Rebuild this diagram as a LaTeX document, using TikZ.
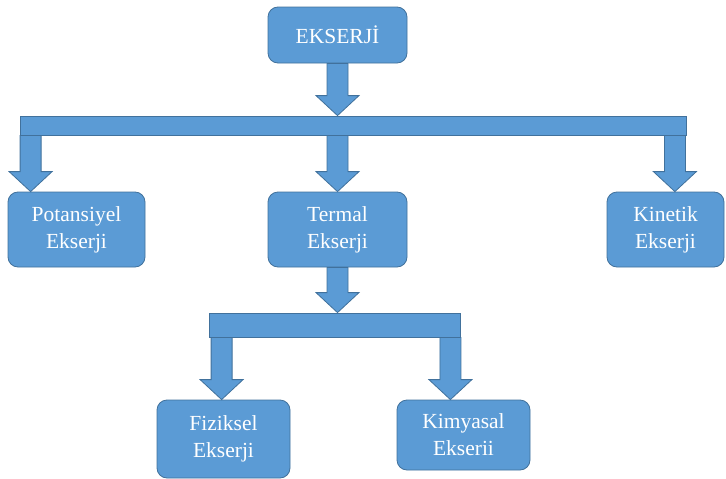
\documentclass[tikz,border=0pt]{standalone}
\usepackage{fontspec}
\setmainfont{Liberation Serif}
\usetikzlibrary{positioning, calc}
\definecolor{ekblue}{HTML}{5B9BD5}
\definecolor{ekline}{HTML}{41719C}

\newcommand{\blockarrow}[2]{%
  \path #1 coordinate (ba1);
  \path #2 coordinate (ba2);
  \draw[bigarrow] let \p1=(ba1), \p2=(ba2) in
    (\x1-10.5pt,\y1) -- (\x1-10.5pt,\y2+20pt) -- (\x1-21.5pt,\y2+20pt) -- (\x1,\y2)
    -- (\x1+21.5pt,\y2+20pt) -- (\x1+10.5pt,\y2+20pt) -- (\x1+10.5pt,\y1) -- cycle;
}

\begin{document}
\begin{tikzpicture}[
    x=1pt, y=-1pt,
    block/.style={rectangle, rounded corners=10pt, draw=ekline, fill=ekblue, text=white, inner sep=0pt, align=center, font=\fontsize{21.5}{27}\selectfont, line width=0.8pt},
    bar/.style={rectangle, draw=ekline, fill=ekblue, inner sep=0pt, line width=0.8pt},
    bigarrow/.style={draw=ekline, fill=ekblue, line width=0.8pt, line join=miter},
  ]
    \useasboundingbox (0,0) rectangle (726,479);

    \node[block, minimum width=139pt, minimum height=56pt] (ekserji) at (337.5,35) {EKSERJİ};
    \node[bar, minimum width=666pt, minimum height=19pt] (bar1) at (353,125.5) {};

    \node[block, minimum width=137pt, minimum height=75pt] (pot) at (76.5,229.5) {Potansiyel\\Ekserji};
    \node[block, minimum width=139pt, minimum height=75pt] (termal) at (337.5,229.5) {Termal\\Ekserji};
    \node[block, minimum width=117pt, minimum height=75pt] (kinetik) at (665.5,229.5) {Kinetik\\Ekserji};

    \node[bar, minimum width=251pt, minimum height=24pt] (bar2) at (334.5,325) {};
    \node[block, minimum width=133pt, minimum height=78pt] (fiziksel) at (223.5,439) {Fiziksel\\Ekserji};
    \node[block, minimum width=133pt, minimum height=70pt] (kimyasal) at (463.5,435) {Kimyasal\\Ekserii};

    \coordinate (apot) at ($(bar1.south west)+(11,0)$);
    \coordinate (akin) at ($(bar1.south east)+(-11.5,0)$);
    \coordinate (afiz) at ($(bar2.south west)+(13,0)$);
    \coordinate (akim) at ($(bar2.south east)+(-10,0)$);

    \blockarrow{(ekserji.south)}{(ekserji.south |- bar1.north)}
    \blockarrow{(apot)}{(apot |- pot.north)}
    \blockarrow{(termal.north |- bar1.south)}{(termal.north)}
    \blockarrow{(akin)}{(akin |- kinetik.north)}
    \blockarrow{(termal.south)}{(termal.south |- bar2.north)}
    \blockarrow{(afiz)}{(afiz |- fiziksel.north)}
    \blockarrow{(akim)}{(akim |- kimyasal.north)}
  \end{tikzpicture}
\end{document}
